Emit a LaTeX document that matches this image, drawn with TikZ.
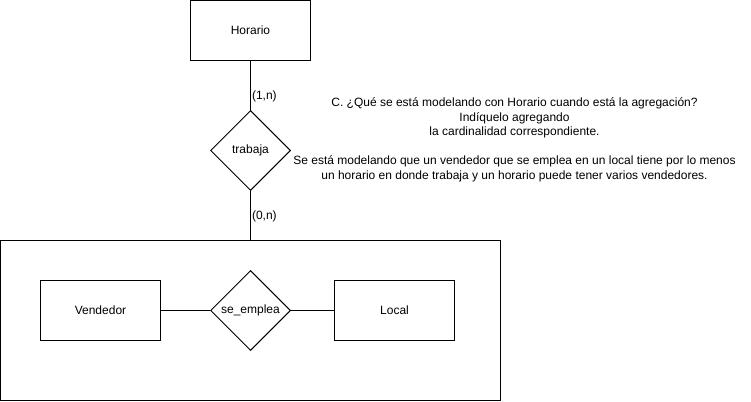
\documentclass[tikz,border=0pt]{standalone}
\usepackage{fontspec}
\setmainfont{Liberation Sans}
\usetikzlibrary{shapes.geometric}

\begin{document}
\begin{tikzpicture}[x=1pt,y=-1pt,line width=1pt,font=\fontsize{12}{14.5}\selectfont,
  entity/.style={draw,rectangle,minimum width=120pt,minimum height=60pt,inner sep=0pt},
  rel/.style={draw,diamond,aspect=1,minimum width=80pt,minimum height=80pt,inner sep=0pt},
  card/.style={anchor=west,inner sep=1pt}]
\useasboundingbox (-0.5,-0.5) rectangle (750.5,400.5);
% agregacion
\node[draw,minimum width=500pt,minimum height=160pt,inner sep=0pt] (agg) at (250,320) {};
\node[entity] (horario) at (250,30) {Horario};
\node[rel] (trabaja) at (250,150) {trabaja};
\node[entity] (vendedor) at (100,310) {Vendedor};
\node[rel] (emplea) at (250,310) {se\_emplea};
\node[entity] (local) at (394,310) {Local};
\draw (horario) -- node[pos=0.72,card]{(1,n)} (trabaja);
\draw (trabaja) -- node[pos=0.52,card]{(0,n)} (agg);
\draw (vendedor) -- (emplea) -- (local);
% texto
\node[align=center] (pregunta) at (514,117.5) {C. ¿Qué se está modelando con Horario cuando está la agregación?\\Indíquelo agregando\\la cardinalidad correspondiente.};
\node[align=center] (respuesta) at (514,168.5) {Se está modelando que un vendedor que se emplea en un local tiene por lo menos\\un horario en donde trabaja y un horario puede tener varios vendedores.};
\end{tikzpicture}
\end{document}
